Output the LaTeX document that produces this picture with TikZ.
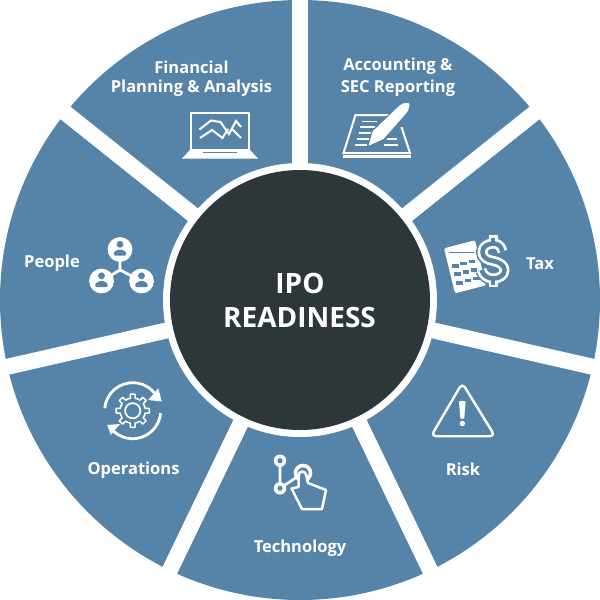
\documentclass[tikz,border=0pt]{standalone}
\usepackage{fontspec}
\setmainfont{Open Sans}
\definecolor{wheel}{HTML}{5584A8}
\definecolor{hub}{HTML}{2D3638}
\tikzset{
  lab/.style={text=white,font=\bfseries\fontsize{16.5}{18}\selectfont,inner sep=0pt,anchor=center},
  hubtext/.style={text=white,font=\bfseries\fontsize{28}{30}\selectfont,inner sep=0pt,anchor=center},
  ico/.style={draw=white,line width=2.2pt,line join=round,line cap=round},
  person/.pic={
    \fill[wheel] (0,-5.2) circle[radius=3.4];
    \fill[wheel,rounded corners=1.2pt] (-6.2,6) -- (-6.2,2.6) -- (-2,0) -- (2,0) -- (6.2,2.6) -- (6.2,6) -- cycle;
  }
}
\begin{document}
\begin{tikzpicture}[x=1pt,y=-1pt]
\useasboundingbox (0,0) rectangle (600,600);
\coordinate (c) at (300,300);
% wheel
\fill[wheel] (c) circle[radius=300];
\foreach \k in {0,...,6}{
  \draw[white,line width=16pt] (c) -- ++({-90+\k*360/7}:320);
}
\fill[white] (c) circle[radius=137];
\node[circle,fill=hub,minimum size=260pt,inner sep=0pt] (hubc) at (c) {};
\node[hubtext] (ipo) at (300,283) {IPO};
\node[hubtext] (rd) at (299.5,317) {READINESS};
% labels
\node[lab] (l1) at (191.5,67) {Financial};
\node[lab] (l2) at (191.5,88.5) {Planning \& Analysis};
\node[lab] (l3) at (398,66) {Accounting \&};
\node[lab] (l4) at (398,88.5) {SEC Reporting};
\node[lab] (l5) at (540,263.5) {Tax};
\node[lab] (l6) at (52,263.5) {People};
\node[lab] (l7) at (133.5,470.5) {Operations};
\node[lab] (l8) at (300,548.5) {Technology};
\node[lab] (l9) at (463,469) {Risk};
% laptop
\draw[ico,line width=2pt] (191,113) rectangle (249,150);
\fill[white] (190,150) -- (250,150) -- (258,158.5) -- (182,158.5) -- cycle;
\fill[wheel] (203,151.6) rectangle (237,153.4);
\draw[ico,line width=2pt,line cap=butt,line join=miter] (199.5,129.5) -- (211,120.5) -- (220.5,122) -- (229,134) -- (236,121) -- (241,127);
\draw[ico,line width=2pt,line cap=butt,line join=miter] (200,138) -- (212,130) -- (222.5,138) -- (228,129);
\draw[ico,line width=2pt,line cap=butt,line join=miter] (232,129) -- (241,138);
% pen and book
\fill[white] (342.5,155) rectangle (411,157.8);
\draw[ico,line width=2pt,line cap=butt,line join=miter] (397,115) -- (355.5,115) -- (343.5,153) -- (410,153) -- (401.5,127);
\foreach \xa/\xb/\yy in {362/377/121.5,360/375/127,358.5/376/133,357/372/139,355/366.5/145,387/397/139,383.5/398/145}{
  \draw[white,line width=1.3pt] (\xa,\yy) -- (\xb,\yy);
}
\fill[white,draw=wheel,line width=1.2pt,line join=round] (367.5,147) -- (372,131) -- (399,105) .. controls (403,102) and (409,101) .. (410,103.5) .. controls (410.5,107) and (409,111) .. (407,113.5) -- (384,139.5) -- cycle;
% tax: calculator
\begin{scope}[shift={(444,248.3)},x={(31pt,8pt)},y={(11pt,-45pt)}]
  \fill[white,rounded corners=1.5pt] (0,0) -- (1,0) -- (1,1) -- (0,1) -- cycle;
  \fill[wheel] (.13,.1) rectangle (.87,.27);
  \foreach \i in {0,1,2}{\foreach \j in {0,1,2}{
    \fill[wheel] ({.13+\i*.27},{.37+\j*.19}) rectangle ++(.17,.11);
  }}
\end{scope}
% tax: dollar
\def\sshape{(502.5,251.5) .. controls (501,245) and (497,243.5) .. (493.3,243.5) .. controls (487,243.5) and (482.5,247) .. (482.5,252) .. controls (482.5,258) and (488,260) .. (493.3,261) .. controls (499,262) and (504.5,265) .. (504.5,270) .. controls (504.5,275) and (500,278.5) .. (493.3,278.5) .. controls (488,278.5) and (483.5,276) .. (481.5,270)}
\draw[wheel,line width=13pt] \sshape;
\draw[white,line width=10pt,line join=round] \sshape;
\draw[white,line width=8.5pt] (493.3,235) -- (493.3,245);
\draw[white,line width=8.5pt] (493.3,277) -- (493.3,287);
\draw[wheel,line width=3.8pt] (493.3,237.5) -- (493.3,246);
\draw[wheel,line width=3.8pt] (493.3,276) -- (493.3,284.5);
\draw[wheel,line width=4.6pt] \sshape;
% people
\coordinate (pt) at (120,249.5);
\coordinate (pl) at (101.5,281);
\coordinate (pr) at (141.5,281);
\coordinate (pm) at (120,270);
\draw[white,line width=2.8pt] (pt) -- (pm) (pl) -- (pm) -- (pr);
\foreach \p in {pt,pl,pr}{
  \fill[white] (\p) circle[radius=12.4];
  \pic at (\p) {person};
}
% operations
\begin{scope}[shift={(132.7,410.7)}]
  \draw[white,line width=2.8pt] (185:28) arc[start angle=185,end angle=325,radius=28];
  \draw[white,line width=2.8pt] (5:28) arc[start angle=5,end angle=146,radius=28];
  \foreach \a in {0,45,...,315}{
    \draw[white,line width=1.5pt,line join=round,line cap=round]
      ({\a-22.5}:12.7) -- ({\a-11}:12.7) -- ({\a-8}:16.8) -- ({\a+8}:16.8) -- ({\a+11}:12.7) -- ({\a+22.5}:12.7);
  }
  \draw[white,line width=1.7pt] (0,0) circle[radius=7.6];
\end{scope}
\fill[white] (158.3,388.3) -- (161.7,401.5) -- (148.3,400) -- cycle;
\fill[white] (107.3,425) -- (120,424) -- (110.8,435) -- cycle;
% technology
\coordinate (ta) at (280,460.7);
\coordinate (tb) at (280,488.3);
\coordinate (tr) at (303,473);
\draw[white,line width=2.6pt] (ta) -- (tb) -- (tr);
\draw[white,line width=3.6pt] (tr) circle[radius=7.5];
\foreach \p in {ta,tb}{
  \fill[white] (\p) circle[radius=6.2];
  \fill[wheel] (\p) circle[radius=2.6];
}
\draw[ico,fill=wheel,line width=2.5pt] (298.5,487) -- (298.5,476) .. controls (298.5,470) and (306,470) .. (306.5,476) -- (308,483) -- (326,490) -- (322,509) -- (302,509) -- (291.5,488.5) -- cycle;
% risk
\draw[ico,line width=2.4pt,rounded corners=5pt] (462.3,383) -- (495,436.2) -- (431,436.2) -- cycle;
\fill[white] (459,402) .. controls (459,400.6) and (465.6,400.6) .. (465.6,402) -- (464.2,418.5) -- (460.4,418.5) -- cycle;
\fill[white] (462.3,423.5) circle[radius=2.7];
\end{tikzpicture}
\end{document}
